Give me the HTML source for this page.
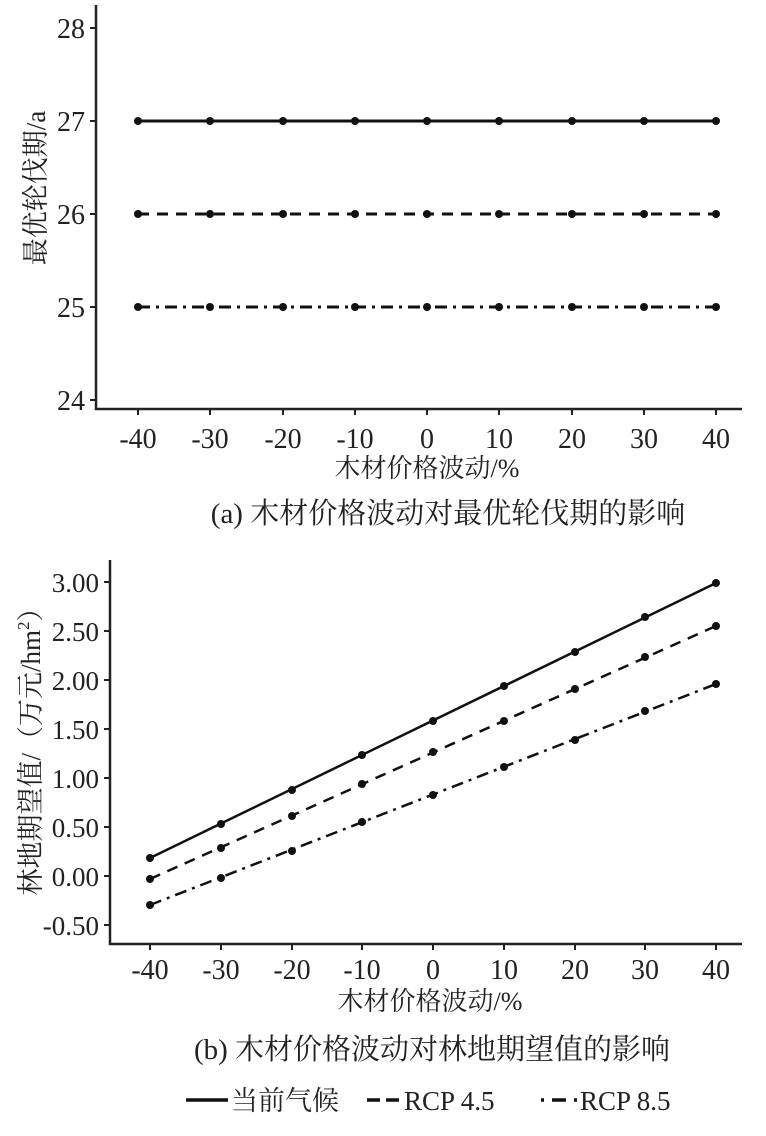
<!DOCTYPE html>
<html><head><meta charset="utf-8"><style>
html,body{margin:0;padding:0;background:#fff;}
svg text{font-family:"Liberation Serif","Noto Serif CJK SC","Noto Sans CJK SC",serif;fill:#222;}
</style></head><body>
<svg width="766" height="1131" viewBox="0 0 766 1131" xmlns="http://www.w3.org/2000/svg">
<defs>
<g id="r1" fill="#111"><circle cx="138" cy="0" r="4"/><circle cx="210" cy="0" r="4"/><circle cx="283" cy="0" r="4"/><circle cx="355" cy="0" r="4"/><circle cx="427" cy="0" r="4"/><circle cx="499" cy="0" r="4"/><circle cx="572" cy="0" r="4"/><circle cx="644" cy="0" r="4"/><circle cx="716" cy="0" r="4"/></g>
</defs>
<g stroke="#222" stroke-width="2.5" fill="none">
<polyline points="96,5 96,409 742,409"/>
</g>
<g stroke="#222" stroke-width="2">
<line x1="90" y1="28" x2="96" y2="28"/><line x1="90" y1="121" x2="96" y2="121"/><line x1="90" y1="214" x2="96" y2="214"/><line x1="90" y1="307" x2="96" y2="307"/><line x1="90" y1="400" x2="96" y2="400"/>
</g>
<g font-size="28" text-anchor="end">
<text x="85" y="38">28</text><text x="85" y="131">27</text><text x="85" y="224">26</text><text x="85" y="317">25</text><text x="85" y="410">24</text>
</g>
<g stroke="#222" stroke-width="2">
<line x1="138" y1="409" x2="138" y2="415"/><line x1="210" y1="409" x2="210" y2="415"/><line x1="283" y1="409" x2="283" y2="415"/><line x1="355" y1="409" x2="355" y2="415"/><line x1="427" y1="409" x2="427" y2="415"/><line x1="499" y1="409" x2="499" y2="415"/><line x1="572" y1="409" x2="572" y2="415"/><line x1="644" y1="409" x2="644" y2="415"/><line x1="716" y1="409" x2="716" y2="415"/>
</g>
<g font-size="28" text-anchor="middle">
<text x="138" y="448">-40</text><text x="210" y="448">-30</text><text x="283" y="448">-20</text><text x="355" y="448">-10</text><text x="427" y="448">0</text><text x="499" y="448">10</text><text x="572" y="448">20</text><text x="644" y="448">30</text><text x="716" y="448">40</text>
<text x="427" y="477" font-size="26">木材价格波动/%</text>
<text x="448" y="523" font-size="29">(a) 木材价格波动对最优轮伐期的影响</text>
</g>
<text transform="translate(45,188) rotate(-90)" font-size="27" text-anchor="middle">最优轮伐期/a</text>
<g stroke="#111" stroke-width="3" fill="none">
<line x1="138" y1="121" x2="716" y2="121"/>
<line x1="138" y1="214" x2="716" y2="214" stroke-dasharray="11,8"/>
<line x1="138" y1="307" x2="716" y2="307" stroke-dasharray="12,6,3,6"/>
</g>
<use href="#r1" y="121"/><use href="#r1" y="214"/><use href="#r1" y="307"/>

<!-- chart b -->
<g stroke="#222" stroke-width="2.5" fill="none">
<polyline points="110,560 110,944 742,944"/>
</g>
<g stroke="#222" stroke-width="2">
<line x1="104" y1="582" x2="110" y2="582"/><line x1="104" y1="631" x2="110" y2="631"/><line x1="104" y1="680" x2="110" y2="680"/><line x1="104" y1="729" x2="110" y2="729"/><line x1="104" y1="778" x2="110" y2="778"/><line x1="104" y1="827" x2="110" y2="827"/><line x1="104" y1="876" x2="110" y2="876"/><line x1="104" y1="925" x2="110" y2="925"/>
</g>
<g font-size="27" text-anchor="end">
<text x="99" y="592">3.00</text><text x="99" y="641">2.50</text><text x="99" y="690">2.00</text><text x="99" y="739">1.50</text><text x="99" y="788">1.00</text><text x="99" y="837">0.50</text><text x="99" y="886">0.00</text><text x="99" y="935">-0.50</text>
</g>
<g stroke="#222" stroke-width="2">
<line x1="150" y1="944" x2="150" y2="950"/><line x1="221" y1="944" x2="221" y2="950"/><line x1="292" y1="944" x2="292" y2="950"/><line x1="362" y1="944" x2="362" y2="950"/><line x1="433" y1="944" x2="433" y2="950"/><line x1="504" y1="944" x2="504" y2="950"/><line x1="575" y1="944" x2="575" y2="950"/><line x1="645" y1="944" x2="645" y2="950"/><line x1="716" y1="944" x2="716" y2="950"/>
</g>
<g font-size="28" text-anchor="middle">
<text x="150" y="979">-40</text><text x="221" y="979">-30</text><text x="292" y="979">-20</text><text x="362" y="979">-10</text><text x="433" y="979">0</text><text x="504" y="979">10</text><text x="575" y="979">20</text><text x="645" y="979">30</text><text x="716" y="979">40</text>
<text x="430" y="1010" font-size="26">木材价格波动/%</text>
<text x="432" y="1059" font-size="29">(b) 木材价格波动对林地期望值的影响</text>
</g>
<text transform="translate(40,745) rotate(-90)" font-size="27" text-anchor="middle">林地期望值/（万元/hm<tspan font-size="17" dy="-11">2</tspan><tspan dy="11">）</tspan></text>
<g stroke="#111" stroke-width="2.5" fill="none">
<line x1="150" y1="858" x2="716" y2="583"/>
<line x1="150" y1="879" x2="716" y2="626" stroke-dasharray="11,8"/>
<line x1="150" y1="905" x2="716" y2="684" stroke-dasharray="12,6,3,6"/>
</g>
<g fill="#111">
<circle cx="150" cy="858" r="4"/><circle cx="221" cy="824" r="4"/><circle cx="292" cy="790" r="4"/><circle cx="362" cy="755" r="4"/><circle cx="433" cy="721" r="4"/><circle cx="504" cy="686" r="4"/><circle cx="575" cy="652" r="4"/><circle cx="645" cy="617" r="4"/><circle cx="716" cy="583" r="4"/>
<circle cx="150" cy="879" r="4"/><circle cx="221" cy="848" r="4"/><circle cx="292" cy="816" r="4"/><circle cx="362" cy="784" r="4"/><circle cx="433" cy="752" r="4"/><circle cx="504" cy="721" r="4"/><circle cx="575" cy="689" r="4"/><circle cx="645" cy="657" r="4"/><circle cx="716" cy="626" r="4"/>
<circle cx="150" cy="905" r="4"/><circle cx="221" cy="878" r="4"/><circle cx="292" cy="851" r="4"/><circle cx="362" cy="822" r="4"/><circle cx="433" cy="795" r="4"/><circle cx="504" cy="767" r="4"/><circle cx="575" cy="740" r="4"/><circle cx="645" cy="711" r="4"/><circle cx="716" cy="684" r="4"/>
</g>
<!-- legend -->
<g stroke="#111" stroke-width="3.5">
<line x1="186" y1="1100" x2="228" y2="1100"/>
<line x1="367" y1="1100" x2="380" y2="1100"/><line x1="386" y1="1100" x2="399" y2="1100"/>
<line x1="541" y1="1100" x2="544" y2="1100"/><line x1="552" y1="1100" x2="566" y2="1100"/><line x1="574" y1="1100" x2="577" y2="1100"/>
</g>
<g font-size="27">
<text x="231" y="1110">当前气候</text>
<text x="404" y="1110">RCP 4.5</text>
<text x="580" y="1110">RCP 8.5</text>
</g>
</svg>
</body></html>
